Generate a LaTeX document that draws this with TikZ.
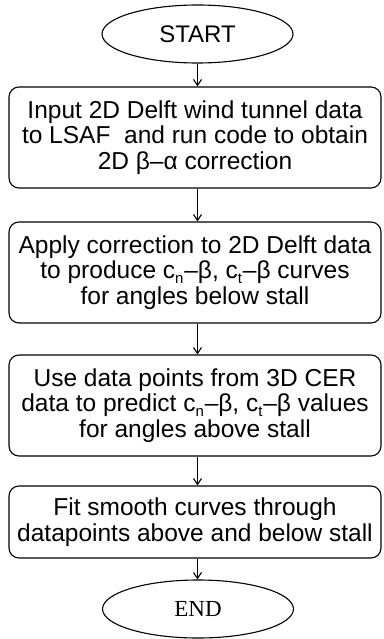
\documentclass[tikz,border=0pt]{standalone}
\usepackage{fontspec}
\setmainfont{Liberation Sans}
\newfontfamily\endserif{Liberation Serif}
\usetikzlibrary{shapes.geometric,arrows.meta}
\newcommand{\subn}[1]{\raisebox{-0.18em}{\fontsize{15}{15}\selectfont #1}\kern0.8pt}
\begin{document}
\begin{tikzpicture}[x=1pt,y=-1pt,
  box/.style={draw,rounded corners=10pt,line width=1.1pt,minimum width=372pt,inner sep=0pt,align=center,font=\fontsize{24.5}{25.5}\selectfont},
  term/.style={draw,ellipse,line width=1.1pt,minimum width=191pt,minimum height=58pt,inner sep=0pt},
  arr/.style={-{Straight Barb[length=6pt,width=8pt]},line width=1.1pt}]
\useasboundingbox (0,0) rectangle (383,639);
\node[term,font=\fontsize{24}{24}\selectfont] (start) at (197.5,34) {START};
\node[box,minimum height=101pt] (b1) at (195,137.5) {Input 2D Delft wind tunnel data\\to LSAF\ \ and run code to obtain\\2D β–α correction};
\node[box,minimum height=101pt] (b2) at (195,272.5) {Apply correction to 2D Delft data\\to produce c\subn{n}–β, c\subn{t}–β curves\\for angles below stall};
\node[box,minimum height=101pt] (b3) at (195,405.5) {Use data points from 3D CER\\data to predict c\subn{n}–β, c\subn{t}–β values\\for angles above stall};
\node[box,minimum height=72pt] (b4) at (195,522) {Fit smooth curves through\\datapoints above and below stall};
\node[term,font=\endserif\fontsize{23}{23}\selectfont] (end) at (198,609) {END};
\draw[arr] (start.south) -- (b1.north -| start.south);
\draw[arr] (b1.south -| start.south) -- (b2.north -| start.south);
\draw[arr] (b2.south -| start.south) -- (b3.north -| start.south);
\draw[arr] (b3.south -| start.south) -- (b4.north -| start.south);
\draw[arr] (b4.south -| start.south) -- (end.north -| start.south);
\end{tikzpicture}
\end{document}
